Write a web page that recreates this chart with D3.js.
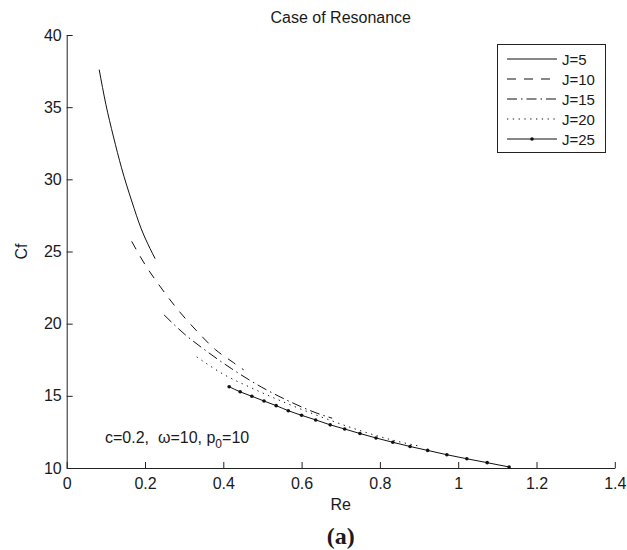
<!DOCTYPE html>
<html>
<head>
<meta charset="utf-8">
<script src="https://cdn.jsdelivr.net/npm/d3@7"></script>
<style>
  html, body { margin: 0; padding: 0; background: #fff; }
  svg { display: block; }
  text { font-family: "Liberation Sans", Arial, Helvetica, sans-serif; fill: #1a1a1a; }
</style>
</head>
<body>
<div id="chart"></div>
<script>
(function () {
    "use strict";

    // values
    var seriesNames = ["J=5", "J=10", "J=15", "J=20", "J=25"];

    var reJ5  = [0.083, 0.100, 0.119, 0.140, 0.166, 0.190, 0.213, 0.226];
    var cfJ5  = [37.6, 35.2, 33.0, 30.8, 28.5, 26.6, 25.2, 24.5];

    var reJ10 = [0.166, 0.200, 0.238, 0.280, 0.332, 0.380, 0.426, 0.452];
    var cfJ10 = [25.7, 24.1, 22.6, 21.1, 19.5, 18.2, 17.3, 16.8];

    var reJ15 = [0.249, 0.300, 0.357, 0.420, 0.498, 0.570, 0.639, 0.678];
    var cfJ15 = [20.6, 19.3, 18.1, 16.9, 15.6, 14.6, 13.8, 13.45];

    var reJ20 = [0.332, 0.400, 0.476, 0.560, 0.664, 0.760, 0.852, 0.904];
    var cfJ20 = [17.7, 16.5, 15.5, 14.5, 13.4, 12.5, 11.8, 11.5];

    var reJ25 = [0.415, 0.443, 0.473, 0.504, 0.535, 0.566, 0.600, 0.636, 0.673, 0.710,
                 0.749, 0.790, 0.833, 0.877, 0.922, 0.971, 1.022, 1.074, 1.130];
    var cfJ25 = [15.63, 15.28, 14.97, 14.64, 14.32, 13.97, 13.65, 13.33, 12.99, 12.70,
                 12.39, 12.08, 11.78, 11.49, 11.22, 10.92, 10.64, 10.37, 10.07];

    var xTicks = [0, 0.2, 0.4, 0.6, 0.8, 1, 1.2, 1.4];
    var yTicks = [10, 15, 20, 25, 30, 35, 40];

    var W = 627, H = 550;
    var left = 66.7, right = 614.8, top = 35, bottom = 468;

    var x = d3.scaleLinear().domain([0, 1.4]).range([left, right]);
    var y = d3.scaleLinear().domain([10, 40]).range([bottom, top]);

    var svg = d3.select("#chart").append("svg")
        .attr("width", W)
        .attr("height", H);

    // axes, MATLAB style: ticks pointing inward, no box
    var gx = svg.append("g")
        .attr("transform", "translate(0," + bottom + ")")
        .call(d3.axisBottom(x).tickValues(xTicks).tickFormat(d3.format("~g"))
            .tickSizeInner(-6).tickSizeOuter(0).tickPadding(10));
    var gy = svg.append("g")
        .attr("transform", "translate(" + left + ",0)")
        .call(d3.axisLeft(y).tickValues(yTicks)
            .tickSizeInner(-6).tickSizeOuter(0).tickPadding(5));

    [gx, gy].forEach(function (g) {
        g.select(".domain").attr("stroke", "#222").attr("stroke-width", 1);
        g.selectAll(".tick line").attr("stroke", "#222").attr("stroke-width", 1);
        g.selectAll(".tick text")
            .attr("font-size", 16)
            .attr("font-family", "Liberation Sans, Arial, sans-serif")
            .attr("fill", "#1a1a1a");
    });

    // titles
    svg.append("text")
        .attr("x", (left + right) / 2).attr("y", 23)
        .attr("text-anchor", "middle").attr("font-size", 16)
        .text("Case of Resonance");
    svg.append("text")
        .attr("x", (left + right) / 2).attr("y", 510)
        .attr("text-anchor", "middle").attr("font-size", 16)
        .text("Re");
    svg.append("text")
        .attr("transform", "translate(27," + ((top + bottom) / 2) + ") rotate(-90)")
        .attr("text-anchor", "middle").attr("font-size", 16)
        .text("Cf");
    svg.append("text")
        .attr("x", (left + right) / 2).attr("y", 544)
        .attr("text-anchor", "middle")
        .attr("font-size", 24).attr("font-weight", "bold")
        .style("font-family", "'Liberation Serif', 'Times New Roman', serif")
        .text("(a)");

    // annotation
    var ann = svg.append("text")
        .attr("x", 105).attr("y", 443).attr("font-size", 16);
    ann.append("tspan").text("c=0.2,\u00a0\u00a0\u03c9=10, p");
    ann.append("tspan").attr("font-size", 12).attr("dy", 5).text("0");
    ann.append("tspan").attr("dy", -5).text("=10");

    // curves
    var reData = [reJ5, reJ10, reJ15, reJ20, reJ25];
    var cfData = [cfJ5, cfJ10, cfJ15, cfJ20, cfJ25];
    var dashes = [null, "9,8", "10,4,1.5,4", "1.3,4.5", null];

    var line = d3.line()
        .x(function (d) { return x(d[0]); })
        .y(function (d) { return y(d[1]); })
        .curve(d3.curveMonotoneX);

    var series = seriesNames.map(function (name, i) {
        return { name: name, dash: dashes[i],
                 pts: reData[i].map(function (r, k) { return [r, cfData[i][k]]; }) };
    });

    svg.append("g").selectAll("path")
        .data(series)
        .join("path")
        .attr("d", function (d) { return line(d.pts); })
        .attr("fill", "none")
        .attr("stroke", "#111")
        .attr("stroke-width", 1)
        .attr("stroke-dasharray", function (d) { return d.dash; });

    svg.append("g").selectAll("circle")
        .data(series[4].pts)
        .join("circle")
        .attr("cx", function (d) { return x(d[0]); })
        .attr("cy", function (d) { return y(d[1]); })
        .attr("r", 1.8)
        .attr("fill", "#111");

    // legend
    var lg = svg.append("g");
    lg.append("rect")
        .attr("x", 497.5).attr("y", 44.5)
        .attr("width", 108).attr("height", 108)
        .attr("fill", "#fff").attr("stroke", "#222").attr("stroke-width", 1);

    var rows = lg.selectAll("g.row")
        .data(series)
        .join("g")
        .attr("class", "row")
        .attr("transform", function (d, i) { return "translate(0," + (59 + i * 20) + ")"; });
    rows.append("line")
        .attr("x1", 507).attr("x2", 557).attr("y1", 0).attr("y2", 0)
        .attr("stroke", "#111").attr("stroke-width", 1)
        .attr("stroke-dasharray", function (d) { return d.dash; });
    rows.filter(function (d, i) { return i === 4; })
        .append("circle")
        .attr("cx", 532).attr("cy", 0).attr("r", 1.8).attr("fill", "#111");
    rows.append("text")
        .attr("x", 562).attr("y", 5.5).attr("font-size", 15)
        .text(function (d) { return d.name; });
}());
</script>
</body>
</html>
